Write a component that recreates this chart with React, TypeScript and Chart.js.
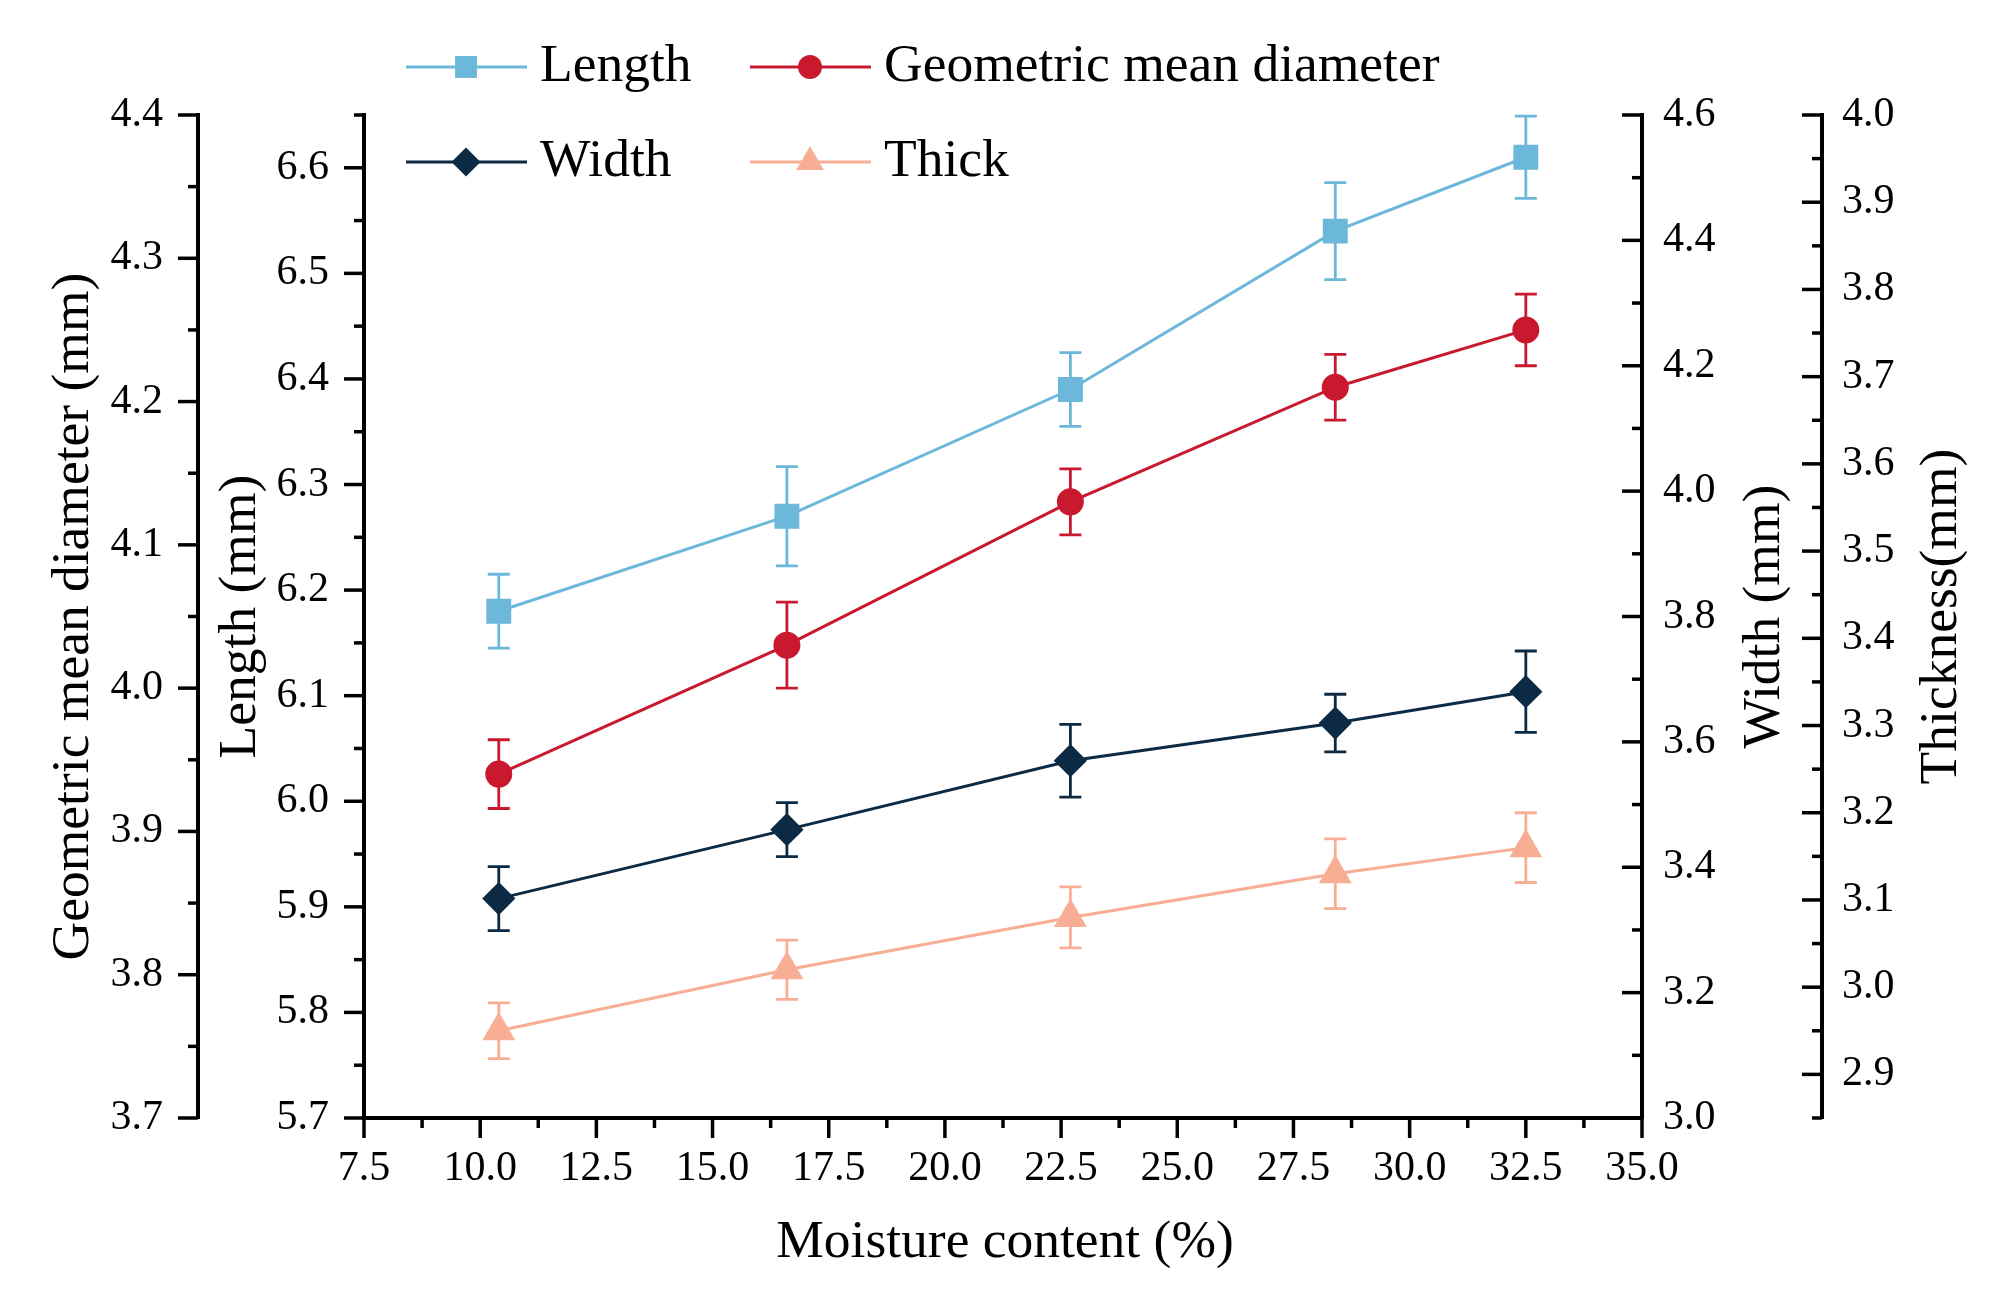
import { useEffect, useRef } from "react"
import { Chart, registerables } from "chart.js"

Chart.register(...registerables)

// moisture content (%) of the five samples
const moisture = [10.4, 16.6, 22.7, 28.4, 32.5]

// means and standard deviations, mm
const lengthMean = [6.18, 6.27, 6.39, 6.54, 6.61]
const lengthErr = [0.035, 0.047, 0.035, 0.046, 0.039]
const gmdMean = [3.94, 4.03, 4.13, 4.21, 4.25]
const gmdErr = [0.024, 0.03, 0.023, 0.023, 0.025]
const widthMean = [3.35, 3.46, 3.57, 3.63, 3.68]
const widthErr = [0.051, 0.043, 0.058, 0.046, 0.065]
const thickMean = [2.95, 3.02, 3.08, 3.13, 3.16]
const thickErr = [0.032, 0.034, 0.035, 0.04, 0.04]

// major tick values of each axis
const xTicks = [7.5, 10, 12.5, 15, 17.5, 20, 22.5, 25, 27.5, 30, 32.5, 35]
const gmdTicks = [3.7, 3.8, 3.9, 4.0, 4.1, 4.2, 4.3, 4.4]
const lengthTicks = [5.7, 5.8, 5.9, 6.0, 6.1, 6.2, 6.3, 6.4, 6.5, 6.6]
const widthTicks = [3.0, 3.2, 3.4, 3.6, 3.8, 4.0, 4.2, 4.4, 4.6]
const thickTicks = [2.9, 3.0, 3.1, 3.2, 3.3, 3.4, 3.5, 3.6, 3.7, 3.8, 3.9, 4.0]

const FONT = '"Liberation Serif", "Times New Roman", serif'

const COLORS = {
  length: "#6cb8da",
  gmd: "#c8192f",
  width: "#0c2a43",
  thick: "#f8ae95",
}

// minor tick spacing per scale
const minorStep: Record<string, number> = { x: 1.25, yG: 0.05, yL: 0.05, yW: 0.1, yT: 0.05 }

const seriesErr = [lengthErr, gmdErr, widthErr, thickErr]

function drawMarker(ctx: CanvasRenderingContext2D, style: string, x: number, y: number, r: number) {
  ctx.beginPath()
  if (style === "rect") {
    const s = r * Math.SQRT1_2
    ctx.rect(x - s, y - s, 2 * s, 2 * s)
  } else if (style === "circle") {
    ctx.arc(x, y, r, 0, Math.PI * 2)
  } else if (style === "rectRot") {
    ctx.moveTo(x - r, y)
    ctx.lineTo(x, y - r)
    ctx.lineTo(x + r, y)
    ctx.lineTo(x, y + r)
    ctx.closePath()
  } else if (style === "triangle") {
    for (let i = 0; i < 3; i++) {
      const a = (i * 2 * Math.PI) / 3
      const px = x + Math.sin(a) * r
      const py = y - Math.cos(a) * r
      if (i === 0) ctx.moveTo(px, py)
      else ctx.lineTo(px, py)
    }
    ctx.closePath()
  }
  ctx.fill()
}

const whiteBg = {
  id: "whiteBg",
  beforeDraw(chart: any) {
    const { ctx, width, height } = chart
    ctx.save()
    ctx.fillStyle = "#fff"
    ctx.fillRect(0, 0, width, height)
    ctx.restore()
  },
}

const errorBars = {
  id: "errorBars",
  beforeDatasetsDraw(chart: any) {
    const ctx = chart.ctx
    const xScale = chart.scales.x
    chart.data.datasets.forEach((ds: any, i: number) => {
      const yScale = chart.scales[ds.yAxisID]
      const err = seriesErr[i]
      ctx.save()
      ctx.strokeStyle = ds.borderColor
      ctx.lineWidth = 2.8
      ds.data.forEach((pt: any, j: number) => {
        const x = xScale.getPixelForValue(pt.x)
        const yTop = yScale.getPixelForValue(pt.y + err[j])
        const yBot = yScale.getPixelForValue(pt.y - err[j])
        ctx.beginPath()
        ctx.moveTo(x, yTop)
        ctx.lineTo(x, yBot)
        ctx.moveTo(x - 11, yTop)
        ctx.lineTo(x + 11, yTop)
        ctx.moveTo(x - 11, yBot)
        ctx.lineTo(x + 11, yBot)
        ctx.stroke()
      })
      ctx.restore()
    })
  },
}

const axisDecor = {
  id: "axisDecor",
  afterDraw(chart: any) {
    const ctx: CanvasRenderingContext2D = chart.ctx
    ctx.save()
    ctx.strokeStyle = "#000"
    ctx.lineWidth = 3.5
    for (const id of Object.keys(minorStep)) {
      const s = chart.scales[id]
      const step = minorStep[id]
      const majors = s.ticks.map((t: any) => t.value)
      const n0 = Math.ceil(s.min / step - 1e-6)
      const n1 = Math.floor(s.max / step + 1e-6)
      for (let k = n0; k <= n1; k++) {
        const v = k * step
        const isMajor = majors.some((m: number) => Math.abs(m - v) < 1e-6)
        const len = isMajor ? 20 : 10
        const p = s.getPixelForValue(v)
        ctx.beginPath()
        if (s.isHorizontal()) {
          ctx.moveTo(p, s.top)
          ctx.lineTo(p, s.top + len)
        } else {
          const ax = s.position === "left" ? s.right : s.left
          ctx.moveTo(ax, p)
          ctx.lineTo(ax - len, p)
        }
        ctx.stroke()
      }
    }

    // axis titles
    const { top, bottom } = chart.chartArea
    const midY = (top + bottom) / 2
    ctx.fillStyle = "#000"
    ctx.font = `53.5px ${FONT}`
    ctx.textAlign = "center"
    ctx.textBaseline = "middle"
    const vTitle = (text: string, x: number) => {
      ctx.save()
      ctx.translate(x, midY)
      ctx.rotate(-Math.PI / 2)
      ctx.fillText(text, 0, 0)
      ctx.restore()
    }
    const s = chart.scales
    vTitle("Geometric mean diameter (mm)", s.yG.left + 74)
    vTitle("Length (mm)", s.yL.left + 43)
    vTitle("Width (mm)", s.yW.left + 123)
    vTitle("Thickness(mm)", s.yT.left + 120)
    ctx.fillText("Moisture content (%)", (s.x.left + s.x.right) / 2 + 2, s.x.top + 125)

    // legend in two columns
    const cols = [406, 750]
    const rows = [67, 162]
    const order = [0, 1, 2, 3]
    ctx.textAlign = "left"
    order.forEach((di, n) => {
      const ds = chart.data.datasets[di]
      const x0 = cols[n % 2]
      const y = rows[Math.floor(n / 2)]
      ctx.strokeStyle = ds.borderColor
      ctx.lineWidth = 2.8
      ctx.beginPath()
      ctx.moveTo(x0, y)
      ctx.lineTo(x0 + 121, y)
      ctx.stroke()
      ctx.fillStyle = ds.backgroundColor
      drawMarker(ctx, ds.pointStyle, x0 + 60, y, ds.pointRadius)
      ctx.fillStyle = "#000"
      ctx.fillText(ds.label, x0 + 134, y)
    })
    ctx.restore()
  },
}

const tickFont = { family: FONT, size: 42 }
const fmt = (v: any) => Number(v).toFixed(1)

function yAxis(position: "left" | "right", weight: number, min: number, max: number, values: number[], padding: number, width: number) {
  return {
    type: "linear" as const,
    position,
    weight,
    min,
    max,
    afterBuildTicks: (s: any) => {
      s.ticks = values.map((value) => ({ value }))
    },
    afterFit: (s: any) => {
      s.width = width
    },
    ticks: { font: tickFont, color: "#000", padding, callback: fmt },
    grid: { display: false, drawTicks: false },
    border: { display: true, color: "#000", width: 4 },
  }
}

function PhysicalChart() {
  const chartRef = useRef<HTMLCanvasElement>(null)
  const chartInstance = useRef<Chart | null>(null)

  useEffect(() => {
    if (!chartRef.current) return
    if (chartInstance.current) chartInstance.current.destroy()
    const ctx = chartRef.current.getContext("2d")
    if (!ctx) return

    const mk = (label: string, mean: number[], axis: string, color: string, pointStyle: string, pointRadius: number) => ({
      label,
      data: moisture.map((x, i) => ({ x, y: mean[i] })),
      yAxisID: axis,
      borderColor: color,
      backgroundColor: color,
      pointBackgroundColor: color,
      pointBorderColor: color,
      pointStyle,
      pointRadius,
      borderWidth: 3,
    })

    chartInstance.current = new Chart(ctx, {
      type: "line",
      data: {
        datasets: [
          mk("Length", lengthMean, "yL", COLORS.length, "rect", 15.5),
          mk("Geometric mean diameter", gmdMean, "yG", COLORS.gmd, "circle", 12),
          mk("Width", widthMean, "yW", COLORS.width, "rectRot", 14.5),
          mk("Thick", thickMean, "yT", COLORS.thick, "triangle", 16),
        ] as any,
      },
      options: {
        responsive: false,
        devicePixelRatio: 1,
        animation: false,
        layout: { padding: { top: 115, left: 0, right: 0, bottom: 0 } },
        plugins: { legend: { display: false }, tooltip: { enabled: false } },
        scales: {
          x: {
            type: "linear",
            position: "bottom",
            min: 7.5,
            max: 35,
            afterBuildTicks: (s: any) => {
              s.ticks = xTicks.map((value) => ({ value }))
            },
            afterFit: (s: any) => {
              s.height = 186
            },
            ticks: { font: tickFont, color: "#000", padding: 26, autoSkip: false, maxRotation: 0, callback: fmt },
            grid: { display: false, drawTicks: false },
            border: { display: true, color: "#000", width: 4 },
          },
          yG: yAxis("left", 1, 3.7, 4.4, gmdTicks, 35, 198),
          yL: yAxis("left", 0, 5.7, 6.65, lengthTicks, 35, 166),
          yW: yAxis("right", 0, 3.0, 4.6, widthTicks, 21, 180),
          yT: yAxis("right", 1, 2.85, 4.0, thickTicks, 20, 183),
        } as any,
      },
      plugins: [whiteBg, errorBars, axisDecor],
    })

    return () => {
      if (chartInstance.current) {
        chartInstance.current.destroy()
        chartInstance.current = null
      }
    }
  }, [])

  return <canvas ref={chartRef} width={2005} height={1304} style={{ display: "block" }} />
}

export default function App() {
  useEffect(() => {
    document.body.style.margin = "0"
  }, [])
  return <PhysicalChart />
}
